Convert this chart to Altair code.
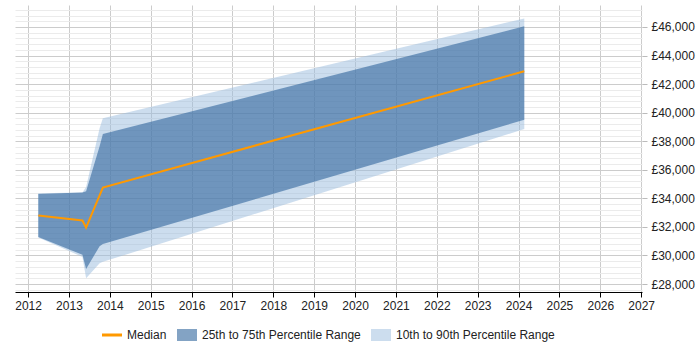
import altair as alt
import pandas as pd

# Data
years = [2012.25, 2013.33, 2013.42, 2013.75, 2013.83, 2024.14]
p10 = [31250, 29900, 28400, 29450, 29550, 38850]
p25 = [31300, 30050, 29050, 30650, 30800, 39500]
p50 = [32800, 32450, 31950, 34200, 34750, 42900]
p75 = [34300, 34400, 34500, 37650, 38500, 46050]
p90 = [34350, 34400, 34800, 38900, 39600, 46600]

series_names = ["Median", "25th to 75th Percentile Range", "10th to 90th Percentile Range"]
legend_colors = ["#ff9900", "#83a3c4", "#ccddee"]
legend_shapes = ["M-1,-0.15H1V0.15H-1Z", "M-1,-0.6H1V0.6H-1Z", "M-1,-0.6H1V0.6H-1Z"]

x_ticks = list(range(2012, 2028))
y_ticks = list(range(27600, 47600, 400))

df = pd.DataFrame({"year": years, "p10": p10, "p25": p25, "p50": p50, "p75": p75, "p90": p90})
legend_df = pd.DataFrame({"series": series_names})

x_scale = alt.Scale(domain=[2011.68, 2027.02], nice=False, zero=False)
y_scale = alt.Scale(domain=[27440, 47540], nice=False, zero=False)

x_axis = alt.Axis(
    values=x_ticks, format="d", title=None, grid=True, gridColor="#cccccc",
    domainColor="#000000", tickColor="#000000", tickSize=5, tickCount=100,
    labelFlush=False, labelOverlap=False,
    labelFont="Liberation Sans", labelFontSize=12, labelColor="#222222", labelPadding=3,
)
y_axis = alt.Axis(
    values=y_ticks, orient="right", title=None, grid=True, tickCount=200,
    labelOverlap=False, labelFlush=False,
    gridColor={"condition": {"test": "datum.value % 2000 === 0", "value": "#cccccc"}, "value": "#ebebeb"},
    tickColor={"condition": {"test": "datum.value % 2000 === 0", "value": "#bbbbbb"}, "value": "transparent"},
    tickSize=5, domain=False,
    labelExpr="datum.value % 2000 === 0 ? '£' + format(datum.value, ',') : ''",
    labelFont="Liberation Sans", labelFontSize=12, labelColor="#222222", labelPadding=4,
)

base = alt.Chart(df)

light = base.mark_area(color="#99bbdd", opacity=0.5).encode(
    x=alt.X("year:Q", scale=x_scale, axis=x_axis),
    y=alt.Y("p10:Q", scale=y_scale, axis=y_axis),
    y2="p90:Q",
)
dark = base.mark_area(color="#31659c", opacity=0.6).encode(
    x="year:Q", y="p25:Q", y2="p75:Q",
)
median = base.mark_line(color="#ff9900", strokeWidth=2).encode(
    x="year:Q", y="p50:Q",
)

legend_layer = alt.Chart(legend_df).transform_filter("false").mark_point(filled=True, opacity=1).encode(
    color=alt.Color(
        "series:N",
        scale=alt.Scale(domain=series_names, range=legend_colors),
        sort=series_names,
        legend=alt.Legend(
            title=None, orient="none", direction="horizontal",
            legendX=87, legendY=320, padding=0,
            symbolOpacity=1, symbolStrokeWidth=0, symbolSize=400,
            labelFont="Liberation Sans", labelFontSize=12, labelColor="#222222",
            labelOffset=5, columnPadding=10,
        ),
    ),
    shape=alt.Shape(
        "series:N",
        scale=alt.Scale(domain=series_names, range=legend_shapes),
        sort=series_names,
    ),
)

chart = alt.layer(light, dark, median, legend_layer).properties(
    width=627,
    height=287,
    autosize=alt.AutoSizeParams(type="none"),
    padding={"left": 15, "top": 5, "right": 58, "bottom": 58},
).configure_view(stroke=None)

chart.save("out.html", embed_options={"renderer": "svg", "actions": False})
